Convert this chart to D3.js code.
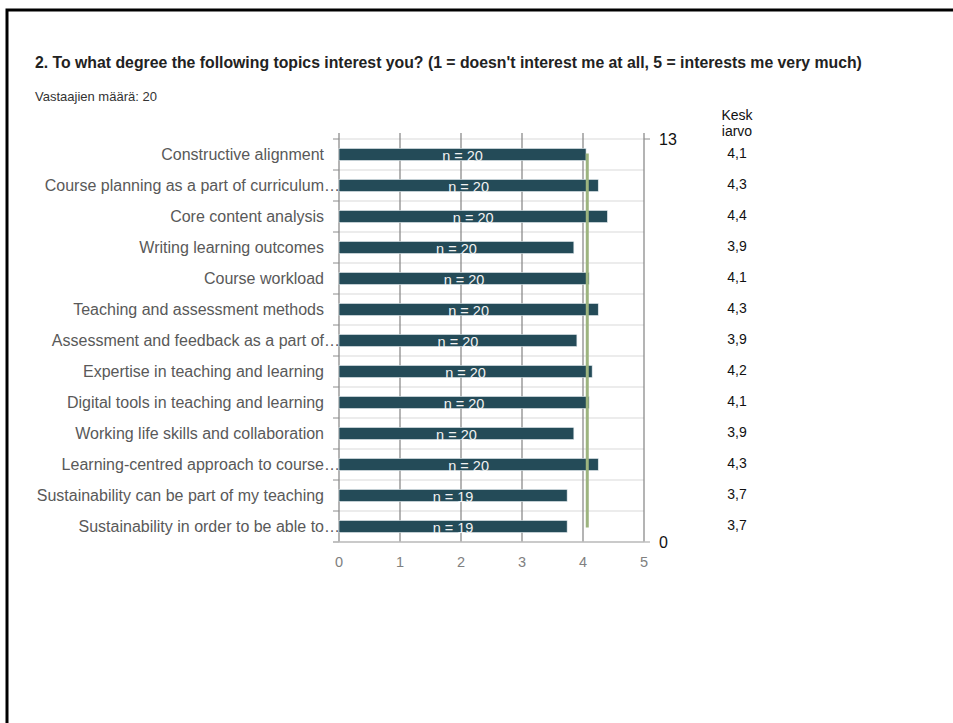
<!DOCTYPE html>
<html>
<head>
<meta charset="utf-8">
<script src="https://cdn.jsdelivr.net/npm/d3@7"></script>
<style>
  html, body { margin: 0; padding: 0; background: #fff; }
  svg { display: block; font-family: Arial, "Liberation Sans", sans-serif; }
</style>
</head>
<body>
<svg id="chart" width="953" height="723"></svg>
<script>
const titleText = "2. To what degree the following topics interest you? (1 = doesn't interest me at all, 5 = interests me very much)";
const subtitleText = "Vastaajien määrä: 20";
const categories = [
  "Constructive alignment",
  "Course planning as a part of curriculum\u2026",
  "Core content analysis",
  "Writing learning outcomes",
  "Course workload",
  "Teaching and assessment methods",
  "Assessment and feedback as a part of\u2026",
  "Expertise in teaching and learning",
  "Digital tools in teaching and learning",
  "Working life skills and collaboration",
  "Learning-centred approach to course\u2026",
  "Sustainability can be part of my teaching",
  "Sustainability in order to be able to\u2026"
];
const means = [4.05, 4.25, 4.40, 3.85, 4.10, 4.25, 3.90, 4.15, 4.10, 3.85, 4.25, 3.74, 3.74];
const counts = [20, 20, 20, 20, 20, 20, 20, 20, 20, 20, 20, 19, 19];
const meanLabels = ["4,1", "4,3", "4,4", "3,9", "4,1", "4,3", "3,9", "4,2", "4,1", "3,9", "4,3", "3,7", "3,7"];
const overallMean = 4.07;
const xTicks = [0, 1, 2, 3, 4, 5];
const rightAxisLabels = ["13", "0"];
const meanHeader = ["Kesk", "iarvo"];

(function () {
const svg = d3.select("#chart");

svg.append("rect").attr("x", 7).attr("y", 10).attr("width", 1000).attr("height", 800)
  .attr("fill", "none").attr("stroke", "#000").attr("stroke-width", 3);

svg.append("text").attr("x", 35).attr("y", 68)
  .attr("font-size", 15.8).attr("font-weight", "bold").attr("fill", "#222")
  .text(titleText);
svg.append("text").attr("x", 35).attr("y", 101)
  .attr("font-size", 13).attr("fill", "#333")
  .text(subtitleText);

const pLeft = 339, pRight = 644, pTop = 139, pBottom = 542;
const x = d3.scaleLinear().domain([0, 5]).range([pLeft, pRight]);
const y = d3.scaleBand().domain(categories).range([pTop, pBottom]);
const yCount = d3.scaleLinear().domain([0, categories.length]).range([pBottom, pTop]);

const g = svg.append("g");

const bounds = d3.range(0, categories.length + 1);
g.selectAll("line.hgrid").data(bounds).join("line")
  .attr("class", "hgrid")
  .attr("x1", pLeft).attr("x2", pRight)
  .attr("y1", d => yCount(d)).attr("y2", d => yCount(d))
  .attr("stroke", "#d9d9d9").attr("stroke-width", 1);

g.selectAll("line.vgrid").data(xTicks).join("line")
  .attr("class", "vgrid")
  .attr("x1", d => x(d)).attr("x2", d => x(d))
  .attr("y1", pTop - 6).attr("y2", pBottom)
  .attr("stroke", "#8c8c8c").attr("stroke-width", 1.3);

g.selectAll("line.ltick").data(bounds).join("line")
  .attr("class", "ltick")
  .attr("x1", pLeft - 6).attr("x2", pLeft)
  .attr("y1", d => yCount(d)).attr("y2", d => yCount(d))
  .attr("stroke", "#8c8c8c").attr("stroke-width", 1);

g.append("line").attr("x1", pLeft - 6).attr("x2", pRight + 6)
  .attr("y1", pBottom).attr("y2", pBottom)
  .attr("stroke", "#bfbfbf").attr("stroke-width", 1.5);
g.append("line").attr("x1", pRight).attr("x2", pRight + 6)
  .attr("y1", pTop).attr("y2", pTop)
  .attr("stroke", "#8c8c8c").attr("stroke-width", 1);

g.selectAll("rect.bar").data(categories).join("rect")
  .attr("class", "bar")
  .attr("x", x(0))
  .attr("y", d => y(d) + y.bandwidth() / 2 - 6)
  .attr("width", (d, i) => x(means[i]) - x(0))
  .attr("height", 12)
  .attr("fill", "#244b58")
  .attr("stroke", "#e3ecef").attr("stroke-width", 0.6);

g.selectAll("text.nlab").data(categories).join("text")
  .attr("class", "nlab")
  .attr("x", (d, i) => (x(0) + x(means[i])) / 2)
  .attr("y", d => y(d) + y.bandwidth() / 2 + 6.5)
  .attr("text-anchor", "middle")
  .attr("font-size", 14.5).attr("fill", "#f2f2f2")
  .text((d, i) => "n = " + counts[i]);

g.append("line")
  .attr("x1", x(overallMean)).attr("x2", x(overallMean))
  .attr("y1", y(categories[0]) + y.bandwidth() / 2 - 1)
  .attr("y2", y(categories[categories.length - 1]) + y.bandwidth() / 2 + 1)
  .attr("stroke", "#9db47f").attr("stroke-width", 3);

const ell = "\u2026";
const catG = g.selectAll("g.cat").data(categories).join("g").attr("class", "cat");
catG.append("text")
  .attr("x", 324)
  .attr("y", d => y(d) + y.bandwidth() / 2 + 5.5)
  .attr("text-anchor", "end")
  .attr("font-size", 16).attr("fill", "#595959")
  .text(d => d.endsWith(ell) ? d.slice(0, -1) : d);
catG.filter(d => d.endsWith(ell)).append("text")
  .attr("x", 324)
  .attr("y", d => y(d) + y.bandwidth() / 2 + 5.5)
  .attr("text-anchor", "start")
  .attr("font-size", 16).attr("fill", "#595959")
  .text(ell);

g.selectAll("text.xt").data(xTicks).join("text")
  .attr("class", "xt")
  .attr("x", d => x(d)).attr("y", 567)
  .attr("text-anchor", "middle")
  .attr("font-size", 14.5).attr("fill", "#808080")
  .text(d => d);

g.append("text").attr("x", 659).attr("y", yCount(categories.length) + 6)
  .attr("font-size", 16).attr("fill", "#111").text(rightAxisLabels[0]);
g.append("text").attr("x", 659).attr("y", yCount(0) + 6)
  .attr("font-size", 16).attr("fill", "#111").text(rightAxisLabels[1]);

g.selectAll("text.mh").data(meanHeader).join("text")
  .attr("class", "mh")
  .attr("x", 737).attr("y", (d, i) => 120 + i * 16)
  .attr("text-anchor", "middle")
  .attr("font-size", 14).attr("fill", "#111")
  .text(d => d);
g.selectAll("text.mv").data(categories).join("text")
  .attr("class", "mv")
  .attr("x", 737)
  .attr("y", d => y(d) + y.bandwidth() / 2 + 3)
  .attr("text-anchor", "middle")
  .attr("font-size", 14).attr("fill", "#111")
  .text((d, i) => meanLabels[i]);
})();
</script>
</body>
</html>
